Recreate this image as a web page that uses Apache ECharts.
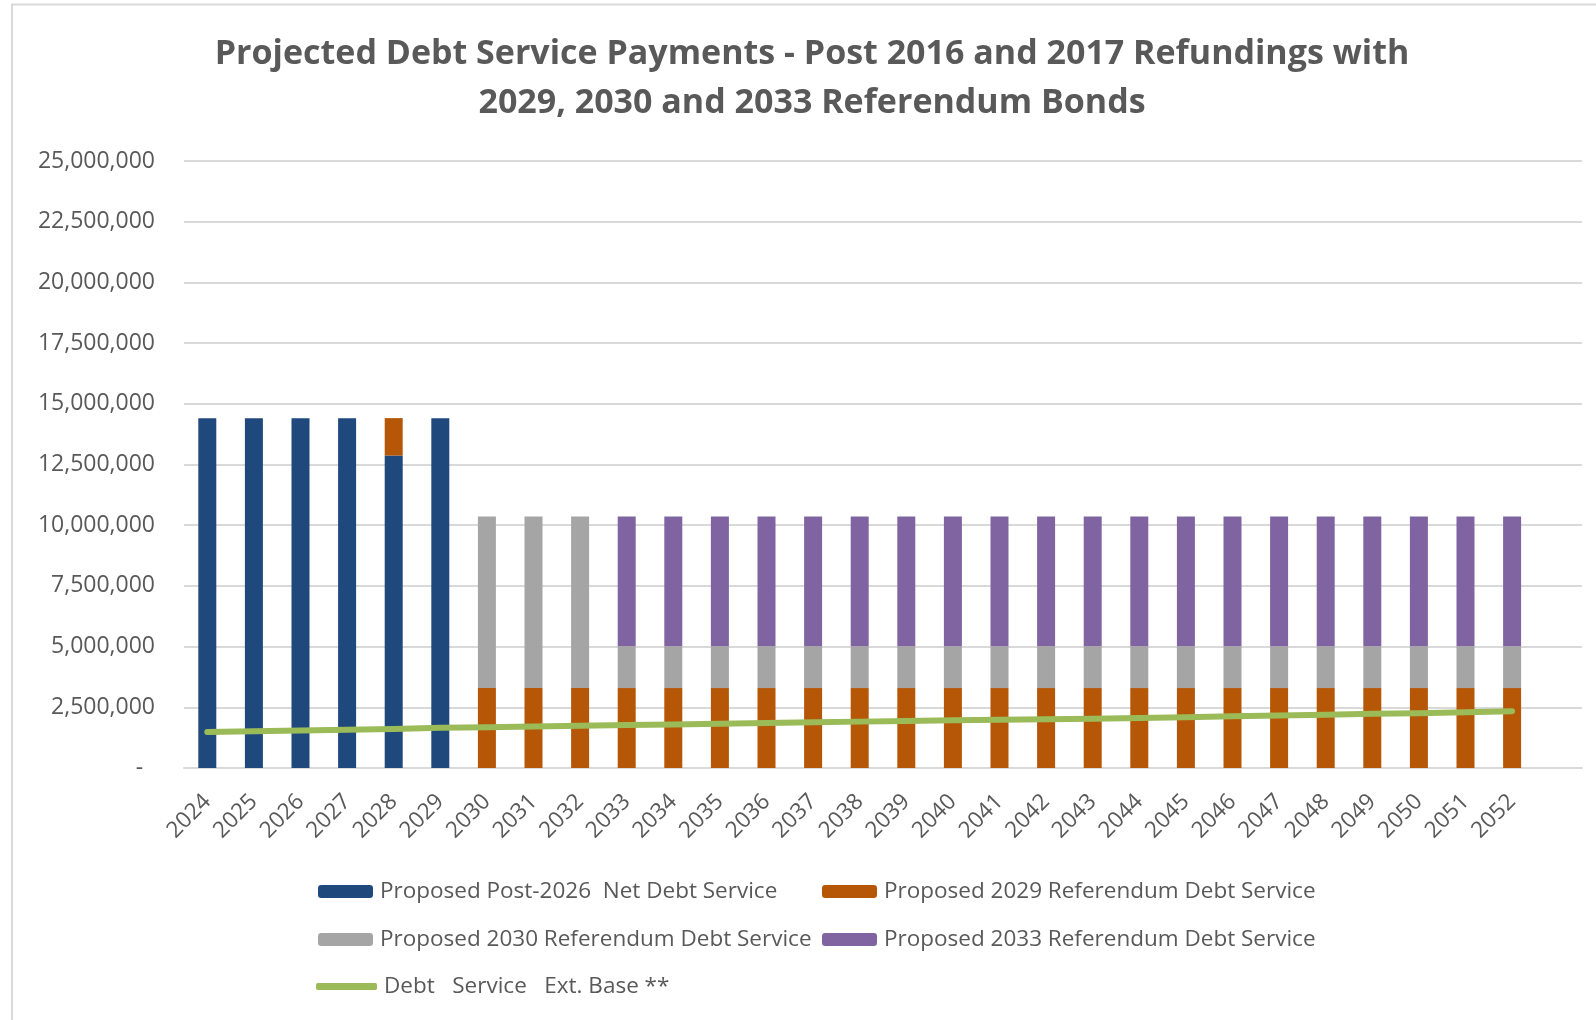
<!DOCTYPE html>
<html>
<head>
<meta charset="utf-8">
<title>Projected Debt Service Payments</title>
<script src="https://cdn.jsdelivr.net/npm/echarts@6/dist/echarts.min.js"></script>
<style>
  html, body { margin: 0; padding: 0; background: #ffffff; }
  #chart { width: 1596px; height: 1020px; }
</style>
</head>
<body>
<div id="chart"></div>
<script>
// Fiscal years shown on the category axis (trailing blank slot keeps the plot open on the right)
const years = ['2024','2025','2026','2027','2028','2029','2030','2031','2032','2033','2034','2035','2036','2037','2038','2039','2040','2041','2042','2043','2044','2045','2046','2047','2048','2049','2050','2051','2052',''];

// Annual debt service by component (dollars)
const netDebtService = [14410000,14410000,14410000,14410000,12870000,14410000,null,null,null,null,null,null,null,null,null,null,null,null,null,null,null,null,null,null,null,null,null,null,null];
const ref2029Service = [null,null,null,null,1540000,null,3290000,3290000,3290000,3290000,3290000,3290000,3290000,3290000,3290000,3290000,3290000,3290000,3290000,3290000,3290000,3290000,3290000,3290000,3290000,3290000,3290000,3290000,3290000];
const ref2030Service = [null,null,null,null,null,null,7070000,7070000,7070000,1720000,1720000,1720000,1720000,1720000,1720000,1720000,1720000,1720000,1720000,1720000,1720000,1720000,1720000,1720000,1720000,1720000,1720000,1720000,1720000];
const ref2033Service = [null,null,null,null,null,null,null,null,null,5350000,5350000,5350000,5350000,5350000,5350000,5350000,5350000,5350000,5350000,5350000,5350000,5350000,5350000,5350000,5350000,5350000,5350000,5350000,5350000];
const extBase = [1480000,1510000,1540000,1580000,1610000,1660000,1680000,1710000,1740000,1770000,1790000,1820000,1850000,1880000,1910000,1940000,1970000,1990000,2010000,2030000,2060000,2090000,2130000,2160000,2190000,2230000,2260000,2300000,2340000];

// Value-axis ticks
const yMin = 0, yMax = 25000000, yStep = 2500000;

const seriesNames = [
  'Proposed Post-2026  Net Debt Service',
  'Proposed 2029 Referendum Debt Service',
  'Proposed 2030 Referendum Debt Service',
  'Proposed 2033 Referendum Debt Service',
  'Debt   Service   Ext. Base **'
];
const colors = ['#1f497d', '#b65708', '#a5a5a5', '#8064a2', '#9bbb59'];

const FONT = '"Open Sans", "Noto Sans", sans-serif';
const TEXT = '#595959';

function legendAt(name, left, top, isLine) {
  const item = {
    data: [name],
    left: left,
    top: top,
    padding: 0,
    itemGap: 0,
    itemWidth: isLine ? 61 : 55,
    itemHeight: isLine ? 7 : 13,
    selectedMode: false,
    textStyle: { fontFamily: FONT, fontSize: 22.5, color: TEXT, padding: [0, 0, 0, 2] }
  };
  if (isLine) {
    item.icon = 'roundRect';
    item.itemStyle = { color: colors[4] };
  }
  return item;
}

const chart = echarts.init(document.getElementById('chart'), null, { renderer: 'canvas' });

chart.setOption({
  animation: false,
  backgroundColor: '#ffffff',
  color: colors,
  graphic: [{
    type: 'rect',
    silent: true,
    shape: { x: 12, y: 4.5, width: 1700, height: 1100 },
    style: { fill: 'none', stroke: '#d9d9d9', lineWidth: 2 },
    z: -10
  }],
  title: {
    text: 'Projected Debt Service Payments - Post 2016 and 2017 Refundings with\n2029, 2030 and 2033 Referendum Bonds',
    left: 812,
    top: 30,
    textAlign: 'center',
    padding: 0,
    textStyle: { fontFamily: FONT, fontSize: 34, fontWeight: 'bold', color: TEXT, lineHeight: 49 }
  },
  legend: [
    legendAt(seriesNames[0], 318, 880, false),
    legendAt(seriesNames[1], 822, 880, false),
    legendAt(seriesNames[2], 318, 928, false),
    legendAt(seriesNames[3], 822, 928, false),
    legendAt(seriesNames[4], 316, 975, true)
  ],
  grid: { left: 184, right: 14, top: 161, bottom: 252, containLabel: false },
  xAxis: {
    type: 'category',
    data: years,
    boundaryGap: true,
    axisLine: { show: true, lineStyle: { color: '#d9d9d9', width: 2 } },
    axisTick: { show: false },
    axisLabel: { interval: 0, rotate: 45, margin: 30, fontFamily: FONT, fontSize: 22.5, color: TEXT }
  },
  yAxis: {
    type: 'value',
    min: yMin,
    max: yMax,
    interval: yStep,
    axisLine: { show: false },
    axisTick: { show: false },
    splitLine: { show: true, lineStyle: { color: '#d9d9d9', width: 2 } },
    axisLabel: {
      margin: 29,
      fontFamily: FONT,
      fontSize: 23,
      color: TEXT,
      formatter: function (v) { return v === 0 ? '-  ' : v.toLocaleString('en-US'); }
    }
  },
  series: [
    { name: seriesNames[0], type: 'bar', stack: 'ds', barWidth: 18, data: netDebtService },
    { name: seriesNames[1], type: 'bar', stack: 'ds', barWidth: 18, data: ref2029Service },
    { name: seriesNames[2], type: 'bar', stack: 'ds', barWidth: 18, data: ref2030Service },
    { name: seriesNames[3], type: 'bar', stack: 'ds', barWidth: 18, data: ref2033Service },
    {
      name: seriesNames[4], type: 'line', data: extBase,
      symbol: 'none', smooth: false, z: 5,
      lineStyle: { color: colors[4], width: 6, cap: 'round', join: 'round' },
      itemStyle: { color: colors[4] }
    }
  ]
});
</script>
</body>
</html>
